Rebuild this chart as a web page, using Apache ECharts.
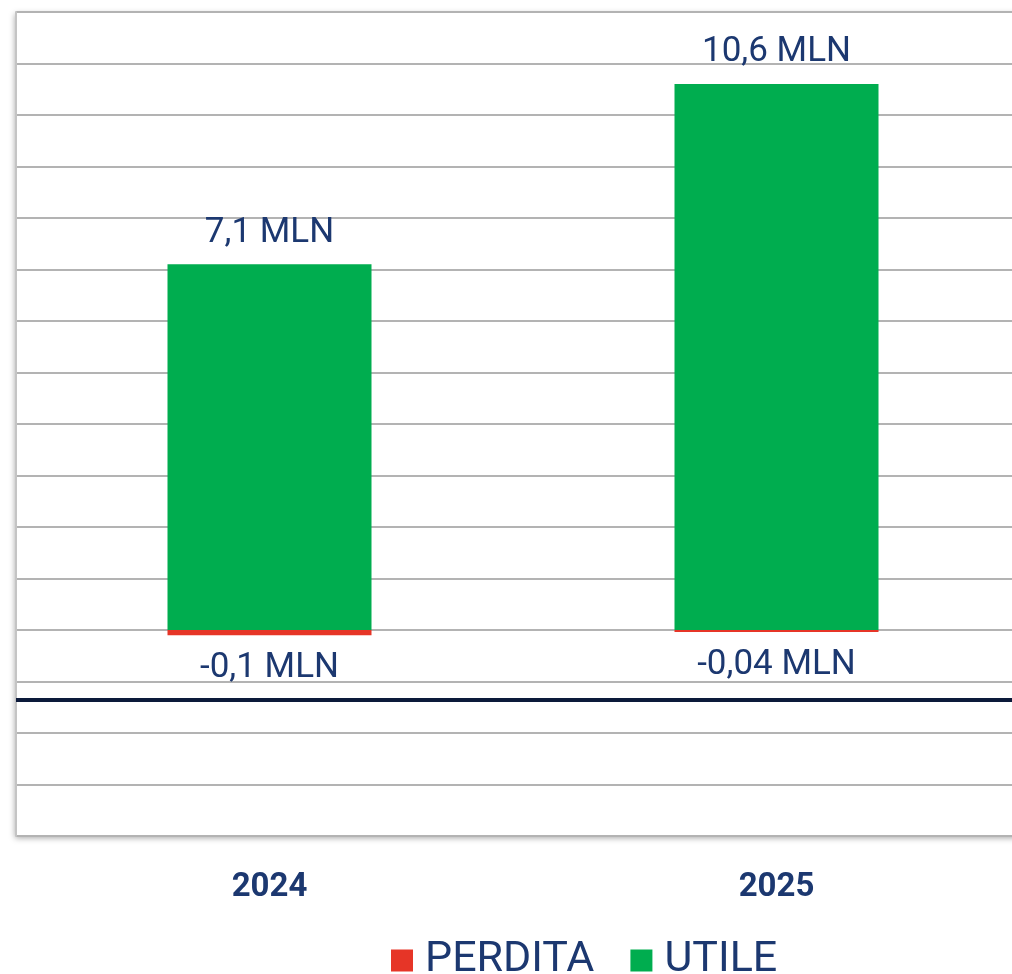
<!DOCTYPE html>
<html>
<head>
<meta charset="utf-8">
<script src="https://cdn.jsdelivr.net/npm/echarts@6/dist/echarts.min.js"></script>
<style>
  html, body { margin: 0; padding: 0; background: #fff; }
  #chart { width: 1012px; height: 974px; }
</style>
</head>
<body>
<div id="chart"></div>
<script>
// dati
const years = ["2024", "2025"];
const perdita = [-0.1, -0.04];
const utile = [7.1, 10.6];
const perditaLabels = ["-0,1 MLN", "-0,04 MLN"];
const utileLabels = ["7,1 MLN", "10,6 MLN"];
const refLine = -1.35; // linea scura sotto lo zero

const navy = "#1c3870";

const chart = echarts.init(document.getElementById("chart"));

const option = {
  animation: false,
  grid: {
    left: 16,
    width: 1014,
    top: 12,
    bottom: 138,
    outerBoundsMode: "none",
    show: true,
    backgroundColor: "#fff",
    borderWidth: 0,
    shadowColor: "rgba(0,0,0,0.35)",
    shadowBlur: 6,
    shadowOffsetX: -1,
    shadowOffsetY: 2,
  },
  legend: {
    left: 386,
    bottom: -13,
    itemWidth: 22,
    itemHeight: 22,
    itemGap: 36,
    icon: "rect",
    data: ["PERDITA", "UTILE"],
    textStyle: {
      fontFamily: "Roboto",
      fontSize: 43,
      color: navy,
      padding: [0, 0, 0, 7],
    },
  },
  xAxis: {
    type: "category",
    data: years,
    axisLine: { show: false },
    axisTick: { show: false },
    axisLabel: {
      margin: 35,
      fontFamily: "Roboto",
      fontWeight: "bold",
      fontSize: 33,
      color: navy,
    },
  },
  yAxis: {
    type: "value",
    min: -4,
    max: 12,
    interval: 1,
    axisLabel: { show: false },
    axisTick: { show: false },
    axisLine: {
      show: true,
      lineStyle: { color: "#c4c4c4", width: 2 },
    },
    splitLine: {
      lineStyle: { color: "#b3b3b3", width: 2 },
    },
  },
  series: [
    {
      name: "PERDITA",
      type: "bar",
      stack: "tot",
      barWidth: 204,
      data: perdita,
      itemStyle: { color: "#e63527" },
      label: {
        show: true,
        position: "bottom",
        distance: 16,
        fontFamily: "Roboto",
        fontSize: 35,
        color: navy,
        formatter: (p) => perditaLabels[p.dataIndex],
      },
      markLine: {
        silent: true,
        symbol: "none",
        label: { show: false },
        lineStyle: { color: "#0c1a3a", width: 4, type: "solid" },
        data: [{ yAxis: refLine }],
      },
    },
    {
      name: "UTILE",
      type: "bar",
      stack: "tot",
      barWidth: 204,
      data: utile,
      itemStyle: { color: "#00ad4f" },
      label: {
        show: true,
        position: "top",
        distance: 14,
        fontFamily: "Roboto",
        fontSize: 35,
        color: navy,
        formatter: (p) => utileLabels[p.dataIndex],
      },
    },
  ],
};

chart.setOption(option);
</script>
</body>
</html>
